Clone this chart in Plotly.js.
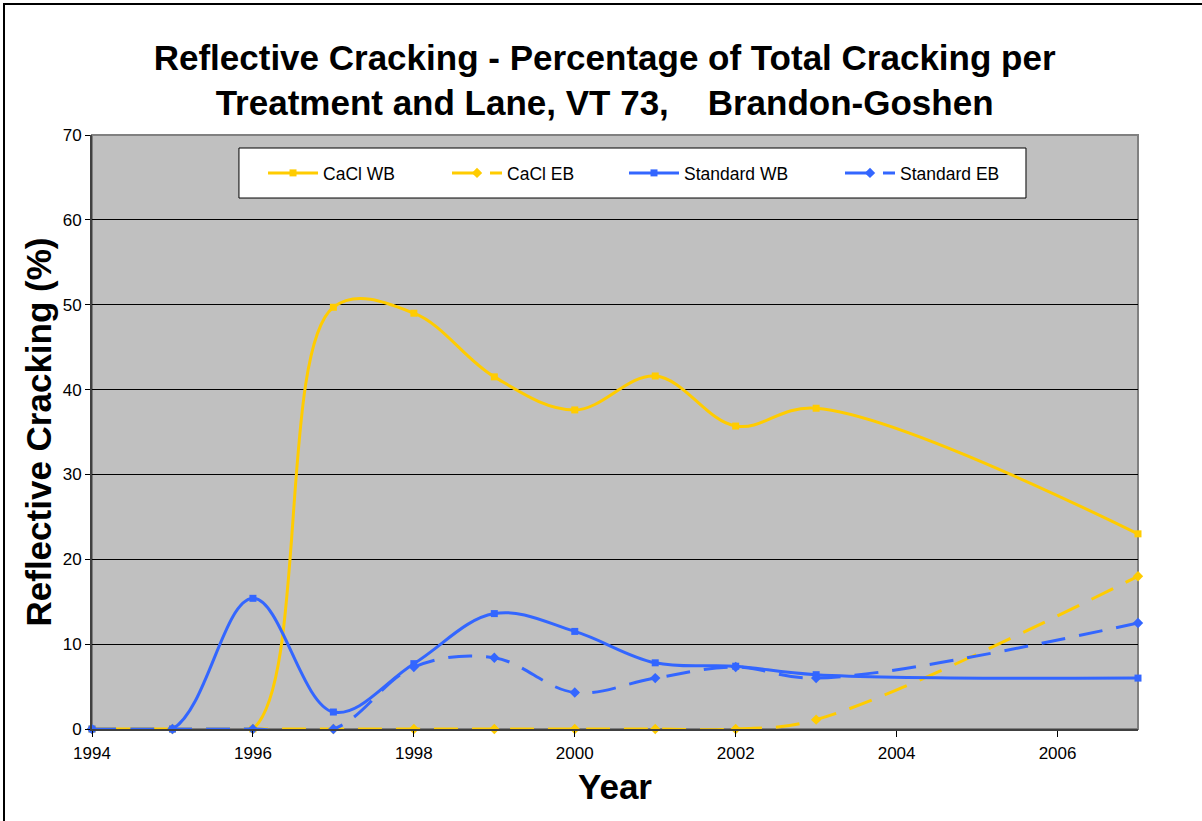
<!DOCTYPE html>
<html>
<head>
<meta charset="utf-8">
<script src="https://cdn.plot.ly/plotly-3.0.1.min.js"></script>
<style>
  html, body { margin: 0; padding: 0; background: #ffffff; }
  #chart { position: absolute; left: 0; top: 0; width: 1202px; height: 821px; }
  #edge { position: absolute; left: 3px; top: 3px; width: 1199px; height: 818px;
          border-left: 2px solid #000; border-top: 2px solid #000; pointer-events: none; }
</style>
</head>
<body>
<div id="chart"></div>
<div id="edge"></div>
<script>
// Survey years (no readings between 2003 and 2007)
const years = [1994, 1995, 1996, 1997, 1998, 1999, 2000, 2001, 2002, 2003, 2007];

// Reflective cracking as % of total cracking
const caclWB     = [0, 0, 0, 49.7, 49.0, 41.5, 37.6, 41.6, 35.7, 37.8, 23.0];
const caclEB     = [0, 0, 0, 0, 0, 0, 0, 0, 0, 1.1, 18.0];
const standardWB = [0, 0, 15.4, 2.0, 7.7, 13.6, 11.5, 7.8, 7.4, 6.4, 6.0];
const standardEB = [0, 0, 0, 0, 7.3, 8.4, 4.3, 6.0, 7.3, 6.0, 12.5];

const seriesNames = ['CaCl WB', 'CaCl EB', 'Standard WB', 'Standard EB'];
const tickYears = [1994, 1996, 1998, 2000, 2002, 2004, 2006];

const GOLD = '#FFCC00';
const BLUE = '#3366FF';
const DASH = '24px,14px';
const FONT = '"Liberation Sans", Arial, sans-serif';

function series(name, y, color, dashed, legendId) {
  return {
    type: 'scatter', mode: 'lines+markers', name: name,
    x: years, y: y,
    legend: legendId,
    cliponaxis: false,
    line: { color: color, width: 3, shape: 'spline', smoothing: 1.05, dash: dashed ? DASH : 'solid' },
    marker: { color: color, size: dashed ? 8 : 7, symbol: dashed ? 'diamond' : 'square', line: { width: 0 } }
  };
}

const traces = [
  series(seriesNames[0], caclWB, GOLD, false, 'legend'),
  series(seriesNames[1], caclEB, GOLD, true, 'legend2'),
  series(seriesNames[2], standardWB, BLUE, false, 'legend3'),
  series(seriesNames[3], standardEB, BLUE, true, 'legend4')
];

function legendAt(x) {
  return {
    x: x, xref: 'paper', xanchor: 'left',
    y: 0.936, yref: 'paper', yanchor: 'middle',
    orientation: 'h', bgcolor: 'rgba(0,0,0,0)', borderwidth: 0,
    itemwidth: 50, font: { family: FONT, size: 17.5, color: '#000' }
  };
}

const layout = {
  width: 1202, height: 821,
  margin: { l: 92, r: 64, t: 135, b: 92, pad: 0 },
  paper_bgcolor: '#ffffff',
  plot_bgcolor: '#C0C0C0',
  showlegend: true,
  font: { family: FONT, color: '#000' },
  title: {
    text: 'Reflective Cracking - Percentage of Total Cracking per<br>Treatment and Lane, VT 73,\u00a0\u00a0\u00a0\u00a0Brandon-Goshen',
    font: { family: FONT, size: 35, weight: 'bold', color: '#000' },
    x: 0.503, xref: 'container', xanchor: 'center',
    y: 0.915, yref: 'container', yanchor: 'top'
  },
  xaxis: {
    range: [1994, 2007], tickmode: 'array', tickvals: tickYears, ticktext: tickYears.map(String),
    showgrid: false, zeroline: false,
    showline: true, linecolor: '#404040', linewidth: 2,
    ticks: 'outside', ticklen: 6, tickcolor: '#000', tickwidth: 1,
    ticklabelstandoff: 2,
    tickfont: { family: FONT, size: 17, color: '#000' },
    title: { text: 'Year', standoff: 12, font: { family: FONT, size: 35, weight: 'bold', color: '#000' } },
    automargin: false, fixedrange: true
  },
  yaxis: {
    range: [0, 70], tick0: 0, dtick: 10,
    showgrid: true, gridcolor: '#000', gridwidth: 1, zeroline: false,
    showline: true, linecolor: '#404040', linewidth: 2,
    ticks: 'outside', ticklen: 5, tickcolor: '#000', tickwidth: 1,
    tickfont: { family: FONT, size: 17, color: '#000' },
    title: { text: 'Reflective Cracking (%)', standoff: 0, font: { family: FONT, size: 35, weight: 'bold', color: '#000' } },
    automargin: false, fixedrange: true
  },
  legend: legendAt(0.1635),
  legend2: legendAt(0.3394),
  legend3: legendAt(0.5086),
  legend4: legendAt(0.7151),
  shapes: [
    // plot area frame
    { type: 'rect', xref: 'paper', yref: 'paper', x0: 0, x1: 1, y0: 0, y1: 1,
      line: { color: '#808080', width: 2 }, fillcolor: 'rgba(0,0,0,0)', layer: 'below' },
    // legend box
    { type: 'rect', xref: 'paper', yref: 'paper', x0: 0.1405, x1: 0.8929, y0: 0.8939, y1: 0.9781,
      line: { color: '#000', width: 1 }, fillcolor: '#ffffff', layer: 'above' }
  ]
};

Plotly.newPlot('chart', traces, layout, { displayModeBar: false, staticPlot: true });
</script>
</body>
</html>
